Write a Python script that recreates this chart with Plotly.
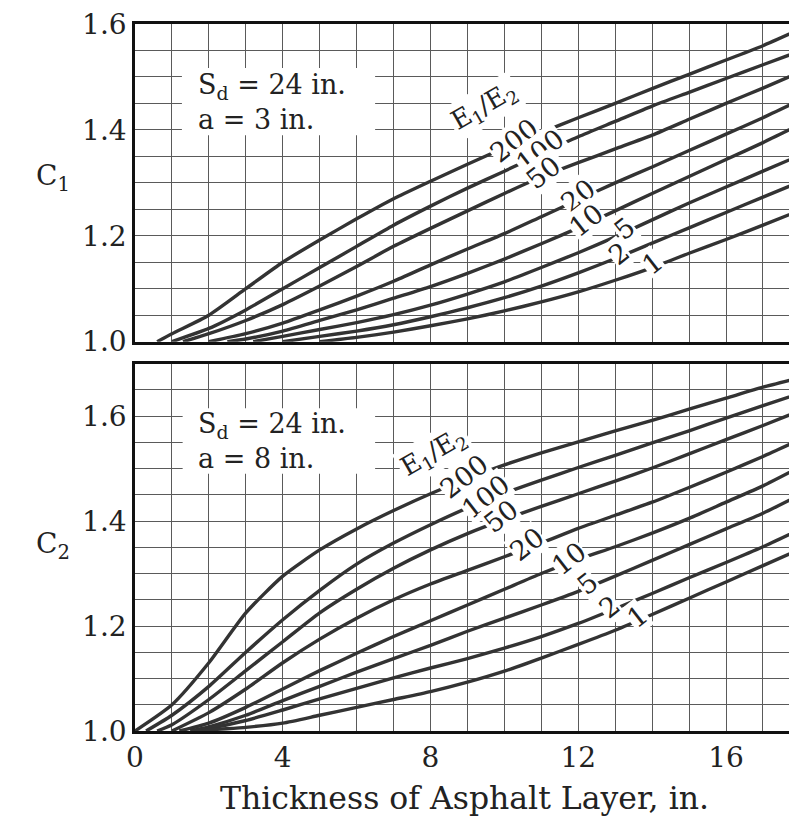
import numpy as np
import plotly.graph_objects as go

# ---------------- data ----------------
THICKNESS = list(range(0, 19))          # asphalt thickness, in.
RATIOS = ["200", "100", "50", "20", "10", "5", "2", "1"]   # E1/E2

# Upper chart: C1 (Sd = 24 in., a = 3 in.). None = curve has not left 1.0 yet
C1_START = [0.6, 1.0, 1.3, 2.0, 2.5, 3.2, 4.0, 5.0]
C1_200 = [None, 1.015, 1.05, 1.10, 1.15, 1.192, 1.232, 1.27, 1.303, 1.335, 1.366, 1.395, 1.423, 1.45, 1.478, 1.505, 1.532, 1.559, 1.59]
C1_100 = [None, None, 1.025, 1.06, 1.10, 1.14, 1.18, 1.22, 1.256, 1.29, 1.322, 1.355, 1.387, 1.416, 1.445, 1.471, 1.497, 1.523, 1.549]
C1_50 = [None, None, 1.015, 1.04, 1.07, 1.105, 1.142, 1.18, 1.214, 1.247, 1.28, 1.311, 1.338, 1.364, 1.39, 1.42, 1.45, 1.479, 1.509]
C1_20 = [None, None, None, 1.015, 1.035, 1.06, 1.086, 1.114, 1.145, 1.175, 1.204, 1.236, 1.268, 1.30, 1.33, 1.361, 1.392, 1.423, 1.456]
C1_10 = [None, None, None, 1.005, 1.02, 1.04, 1.06, 1.082, 1.104, 1.129, 1.156, 1.185, 1.215, 1.247, 1.28, 1.312, 1.344, 1.376, 1.41]
C1_5 = [None, None, None, None, 1.01, 1.023, 1.036, 1.051, 1.069, 1.09, 1.113, 1.14, 1.168, 1.198, 1.23, 1.262, 1.292, 1.322, 1.352]
C1_2 = [None, None, None, None, None, 1.01, 1.02, 1.032, 1.047, 1.064, 1.083, 1.105, 1.13, 1.157, 1.186, 1.215, 1.244, 1.273, 1.302]
C1_1 = [None, None, None, None, None, None, 1.008, 1.018, 1.03, 1.043, 1.058, 1.075, 1.094, 1.116, 1.14, 1.167, 1.193, 1.22, 1.248]

# Lower chart: C2 (Sd = 24 in., a = 8 in.)
C2_START = [0.0, 0.3, 0.6, 1.0, 1.2, 1.5, 1.5, 1.8]
C2_200 = [None, 1.05, 1.13, 1.225, 1.295, 1.345, 1.385, 1.42, 1.452, 1.481, 1.507, 1.53, 1.551, 1.572, 1.592, 1.613, 1.634, 1.655, 1.673]
C2_100 = [None, 1.03, 1.085, 1.15, 1.212, 1.268, 1.318, 1.358, 1.393, 1.425, 1.453, 1.478, 1.502, 1.525, 1.549, 1.572, 1.596, 1.62, 1.643]
C2_50 = [None, 1.012, 1.06, 1.115, 1.17, 1.225, 1.27, 1.31, 1.345, 1.376, 1.403, 1.428, 1.452, 1.476, 1.501, 1.528, 1.555, 1.582, 1.61]
C2_20 = [None, None, 1.035, 1.08, 1.13, 1.175, 1.215, 1.25, 1.28, 1.306, 1.332, 1.358, 1.386, 1.411, 1.436, 1.464, 1.493, 1.523, 1.555]
C2_10 = [None, None, 1.015, 1.045, 1.08, 1.115, 1.148, 1.18, 1.21, 1.24, 1.27, 1.30, 1.327, 1.351, 1.377, 1.405, 1.436, 1.467, 1.503]
C2_5 = [None, None, 1.008, 1.03, 1.058, 1.085, 1.112, 1.138, 1.163, 1.19, 1.215, 1.24, 1.266, 1.295, 1.325, 1.355, 1.385, 1.415, 1.45]
C2_2 = [None, None, 1.005, 1.02, 1.04, 1.061, 1.081, 1.101, 1.12, 1.138, 1.158, 1.18, 1.205, 1.233, 1.262, 1.292, 1.321, 1.351, 1.384]
C2_1 = [None, None, 1.002, 1.007, 1.015, 1.03, 1.045, 1.06, 1.075, 1.093, 1.114, 1.139, 1.165, 1.192, 1.222, 1.253, 1.284, 1.315, 1.346]

C1_CURVES = [C1_200, C1_100, C1_50, C1_20, C1_10, C1_5, C1_2, C1_1]
C2_CURVES = [C2_200, C2_100, C2_50, C2_20, C2_10, C2_5, C2_2, C2_1]

# thickness at which each E1/E2 label sits on its curve
C1_LABEL_AT = [10.25, 10.97, 11.05, 12.0, 12.2, 13.25, 13.1, 14.0]
C2_LABEL_AT = [8.9, 9.5, 9.9, 10.6, 11.75, 12.25, 12.85, 13.6]

# ---------------- styling ----------------
FONT = "DejaVu Serif"
TXT = "#222222"
LINE = "#333333"
GRID = "#5a5a5a"

fig = go.Figure()


def curve_xy(start, vals):
    xs, ys = [start], [1.0]
    for t, v in zip(THICKNESS, vals):
        if v is not None and t > start:
            xs.append(t)
            ys.append(v)
    return xs, ys


for starts, curves, xa, ya in [(C1_START, C1_CURVES, "x", "y"),
                               (C2_START, C2_CURVES, "x2", "y2")]:
    for s, vals, name in zip(starts, curves, RATIOS):
        xs, ys = curve_xy(s, vals)
        fig.add_trace(go.Scatter(x=xs, y=ys, mode="lines", xaxis=xa, yaxis=ya,
                                 line=dict(color=LINE, width=3.4, shape="spline", smoothing=0.6),
                                 name=name, showlegend=False, hoverinfo="skip"))

annotations = []
for starts, curves, pos, xr, yr in [(C1_START, C1_CURVES, C1_LABEL_AT, "x", "y"),
                                    (C2_START, C2_CURVES, C2_LABEL_AT, "x2", "y2")]:
    for s, vals, name, p in zip(starts, curves, RATIOS, pos):
        xs, ys = curve_xy(s, vals)
        annotations.append(dict(x=p, y=float(np.interp(p, xs, ys)), xref=xr, yref=yr,
                                text=name, showarrow=False, textangle=-38, yshift=4,
                                font=dict(family=FONT, size=27, color=TXT),
                                bgcolor="white", borderpad=0))

# E1/E2 headers
annotations.append(dict(x=9.45, y=1.445, xref="x", yref="y", text="E<sub>1</sub>/E<sub>2</sub>",
                        showarrow=False, textangle=-30, font=dict(family=FONT, size=26, color=TXT),
                        bgcolor="white", borderpad=2))
annotations.append(dict(x=8.1, y=1.53, xref="x2", yref="y2", text="E<sub>1</sub>/E<sub>2</sub>",
                        showarrow=False, textangle=-30, font=dict(family=FONT, size=26, color=TXT),
                        bgcolor="white", borderpad=2))

# parameter boxes (white panels behind the text, above the grid)
shapes = [
    dict(type="rect", xref="x", yref="y", x0=1.27, x1=6.5, y0=1.39, y1=1.517,
         fillcolor="white", line=dict(width=0), layer="between"),
    dict(type="rect", xref="x2", yref="y2", x0=1.29, x1=6.5, y0=1.49, y1=1.615,
         fillcolor="white", line=dict(width=0), layer="between"),
]
annotations.append(dict(x=1.65, y=1.452, xref="x", yref="y", xanchor="left",
                        text="S<sub>d</sub> = 24 in.<br>a = 3 in.", align="left",
                        showarrow=False, font=dict(family=FONT, size=27, color=TXT)))
annotations.append(dict(x=1.65, y=1.553, xref="x2", yref="y2", xanchor="left",
                        text="S<sub>d</sub> = 24 in.<br>a = 8 in.", align="left",
                        showarrow=False, font=dict(family=FONT, size=27, color=TXT)))

# C1 / C2 axis names
annotations.append(dict(x=-0.125, y=1.31, xref="paper", yref="y", text="C<sub>1</sub>",
                        xanchor="center", showarrow=False, font=dict(family=FONT, size=28, color=TXT)))
annotations.append(dict(x=-0.125, y=1.353, xref="paper", yref="y2", text="C<sub>2</sub>",
                        xanchor="center", showarrow=False, font=dict(family=FONT, size=28, color=TXT)))

xcommon = dict(range=[0, 17.84], tick0=0, dtick=4, showgrid=True, gridcolor=GRID, gridwidth=1.4,
               minor=dict(dtick=1, showgrid=True, gridcolor=GRID, gridwidth=1.4),
               showline=True, mirror=True, linecolor="#111", linewidth=2.5,
               ticks="", zeroline=False, ticklabeloverflow="allow",
               tickfont=dict(family=FONT, size=28, color=TXT))
ycommon = dict(tick0=1.0, dtick=0.2, tickformat=".1f", showgrid=True, gridcolor=GRID, gridwidth=1.4,
               minor=dict(dtick=0.05, showgrid=True, gridcolor=GRID, gridwidth=1.4),
               showline=True, mirror=True, linecolor="#111", linewidth=2.5,
               ticks="", zeroline=False, ticklabelstandoff=0, ticklabeloverflow="allow",
               tickfont=dict(family=FONT, size=28, color=TXT))

# the page body adds an 8 px offset, so the figure is sized to fit the window
fig.update_layout(
    width=789, height=814,
    margin=dict(l=127, r=0, t=13, b=91),
    paper_bgcolor="white", plot_bgcolor="white",
    xaxis=dict(**xcommon, anchor="y", domain=[0, 1], showticklabels=False),
    yaxis=dict(**ycommon, anchor="x", domain=[0.5507, 1.0], range=[1.0, 1.6]),
    xaxis2=dict(**xcommon, anchor="y2", domain=[0, 1],
                title=dict(text="Thickness of Asphalt Layer, in.",
                           font=dict(family=FONT, size=31.5, color=TXT), standoff=14)),
    yaxis2=dict(**ycommon, anchor="x2", domain=[0.0, 0.5197], range=[1.0, 1.7]),
    annotations=annotations,
    shapes=shapes,
    showlegend=False,
)

fig.write_html("out.html")
